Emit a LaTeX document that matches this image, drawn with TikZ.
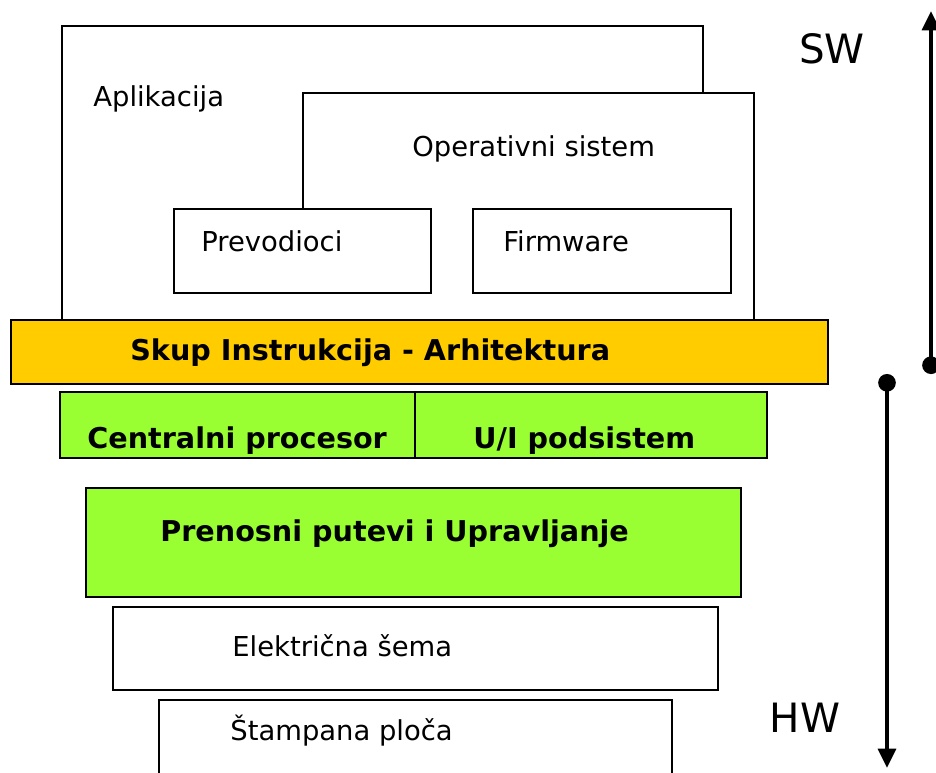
\documentclass[tikz,border=0pt]{standalone}
\usepackage{fontspec}
\setmainfont{DejaVu Sans}
\usetikzlibrary{positioning, arrows.meta}
\definecolor{isaorange}{HTML}{FFCC00}
\definecolor{hwgreen}{HTML}{99FF33}
\tikzset{
	layer/.style={draw, line width=1.5pt},
	lbl/.style={inner sep=0pt, anchor=west, font=\fontsize{15.6}{18}\selectfont},
	blbl/.style={lbl, font=\fontsize{16.3}{19}\selectfont\bfseries},
	side/.style={line width=2.4pt, {Circle[length=10pt]}-{Triangle[length=11pt, width=10pt]}},
}

\begin{document}
\begin{tikzpicture}[x=0.02cm, y=-0.02cm]
	\useasboundingbox (0, 0) rectangle (936, 772);
	% software
	\draw[layer] (62, 320) -- (62, 26) -- (703, 26) -- (703, 93);
	\draw[layer] (303, 209) -- (303, 93) -- (754, 93) -- (754, 320);
	\draw[layer] (174, 209) rectangle (431, 293);
	\draw[layer] (473, 209) rectangle (731, 293);
	\node[lbl] (app) at (93, 99) {Aplikacija};
	\node[lbl] (os) at (412, 149) {Operativni sistem};
	\node[lbl] (comp) at (201, 241) {Prevodioci};
	\node[lbl] (fw) at (503, 241) {Firmware};
	% arhitektura
	\draw[layer, fill=isaorange] (11, 320) rectangle (828, 384);
	\node[blbl] (isa) at (130, 353) {Skup Instrukcija - Arhitektura};
	% hardware
	\draw[layer, fill=hwgreen] (60, 392) rectangle (415, 458);
	\draw[layer, fill=hwgreen] (415, 392) rectangle (767, 458);
	\draw[layer, fill=hwgreen] (86, 488) rectangle (741, 597);
	\node[blbl] (cpu) at (87, 441) {Centralni procesor};
	\node[blbl] (io) at (473, 441) {U/I podsistem};
	\node[blbl] (bus) at (160, 534) {Prenosni putevi i Upravljanje};
	\draw[layer] (113, 607) rectangle (718, 690);
	\draw[layer] (159, 780) -- (159, 700) -- (672, 700) -- (672, 780);
	\node[lbl] (circ) at (232, 646) {Električna šema};
	\node[lbl] (pcb) at (230, 731) {Štampana ploča};
	% SW / HW
	\node[font=\fontsize{23}{26}\selectfont] (sw) at (832, 49) {SW};
	\node[font=\fontsize{23}{26}\selectfont] (hw) at (805, 718) {HW};
	\coordinate (swlo) at (931, 374);
	\coordinate (swhi) at (931, 11);
	\coordinate (hwhi) at (887, 374);
	\coordinate (hwlo) at (887, 768);
	\draw[side] (swlo) -- (swhi);
	\draw[side] (hwhi) -- (hwlo);
\end{tikzpicture}
\end{document}
